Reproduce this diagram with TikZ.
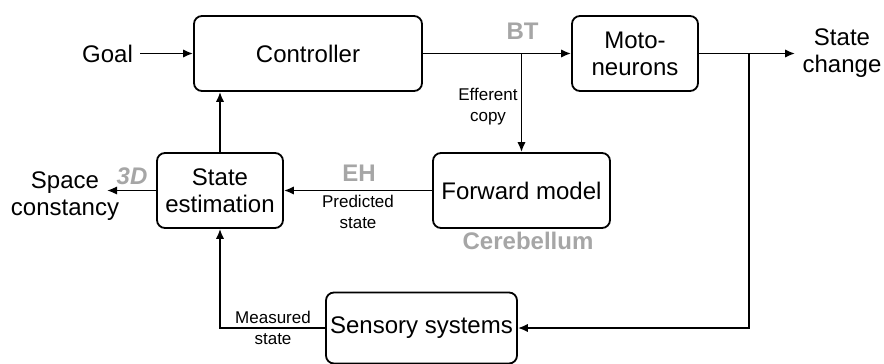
\documentclass[tikz,border=0pt]{standalone}
\usepackage{fontspec}
\setmainfont{Liberation Sans}
\usetikzlibrary{arrows.meta}
\definecolor{labelgray}{RGB}{166,166,166}
\begin{document}
\begin{tikzpicture}[
    x=0.5pt, y=-0.5pt,
    line width=0.9pt,
    >={Latex[length=5pt,width=4.2pt]},
    every node/.style={font=\fontsize{12}{13.5}\selectfont},
    block/.style={draw, rounded corners=4pt, minimum height=37.5pt,
      align=center, inner sep=2pt},
    note/.style={font=\fontsize{8.5}{10.5}\selectfont, align=center},
    area/.style={font=\fontsize{12}{14}\selectfont\bfseries, text=labelgray},
  ]
  \useasboundingbox (0,0) rectangle (884,364);

  % blocks
  \node[block, minimum width=114pt] (ctrl) at (308,53.5) {Controller};
  \node[block, minimum width=63pt] (moto) at (635,53.5) {Moto-\\neurons};
  \node[block, minimum width=63pt] (est) at (220,190.5) {State\\estimation};
  \node[block, minimum width=88.5pt] (fwd) at (521.5,190.5) {Forward model};
  \node[block, minimum width=95.5pt, minimum height=35.5pt] (sens)
    at (421.5,328) {Sensory systems};

  % inputs and outputs
  \node (goal) at (107.5,53.5) {Goal};
  \node[align=center] (change) at (842,53.5) {State\\change};
  \node[align=center] (space) at (65,196) {Space\\constancy};
  \coordinate (spc) at (107,190.5);
  \coordinate (split) at (521.5,53.5);
  \coordinate (tap) at (749,53.5);

  % labels
  \node[area] (bt) at (522.5,31) {BT};
  \node[area] (eh) at (359,173) {EH};
  \node[area, font=\fontsize{12}{14}\selectfont\bfseries\itshape] (td)
    at (132,176) {3D};
  \node[area] (cb) at (528,241) {Cerebellum};
  \node[note] (eff) at (488,107) {Efferent\\copy};
  \node[note] (pred) at (358,212) {Predicted\\state};
  \node[note] (meas) at (273,328) {Measured\\state};

  % connectors
  \draw[->] (goal) -- (ctrl);
  \draw[->] (ctrl) -- (moto);
  \draw[->] (split) -- (fwd);
  \draw[->] (moto) -- (tap) -- (change);
  \draw[->] (tap) |- (sens);
  \draw[->] (sens) -| (est);
  \draw[->] (est) -- (est |- ctrl.south);
  \draw[->] (fwd) -- (est);
  \draw[->] (est) -- (spc);
\end{tikzpicture}
\end{document}
